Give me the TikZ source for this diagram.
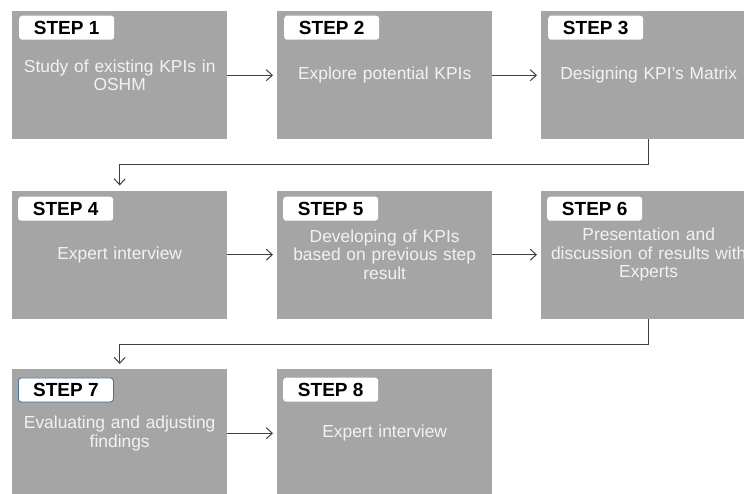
\documentclass[tikz,border=0pt]{standalone}
\usepackage{fontspec}
\setmainfont{Liberation Sans}
\usetikzlibrary{arrows.meta}
\definecolor{boxgray}{HTML}{A5A5A5}
\definecolor{bodytxt}{HTML}{F2F2F2}
\definecolor{linegray}{HTML}{404040}
\definecolor{labelblue}{HTML}{41719C}
\begin{document}
\begin{tikzpicture}[x=1pt,y=-1pt,
  stepbox/.style={fill=boxgray, minimum width=215pt, minimum height=128pt,
    inner sep=0pt, text width=207pt, align=center, text=bodytxt,
    font=\fontsize{17.4}{18.6}\selectfont, anchor=north west},
  steplabel/.style={fill=white, rounded corners=3pt, minimum width=95pt,
    minimum height=24pt, inner sep=0pt, text=black,
    font=\fontsize{19}{22}\selectfont\bfseries, anchor=north west},
  flow/.style={draw=linegray, line width=1pt, shorten >=4pt,
    -{Straight Barb[length=6pt,width=11pt]}},
  link/.style={draw=linegray, line width=1.2pt, shorten >=5pt,
    -{Straight Barb[length=6pt,width=11pt,line width=1pt]}}]
\useasboundingbox (0,0) rectangle (744,493);
\clip (0,0) rectangle (744,493);
% row 1
\node[stepbox] (b1) at (12,11) {Study of existing KPIs in\\OSHM};
\node[stepbox] (b2) at (277,11) {Explore potential KPIs};
\node[stepbox] (b3) at (541,11) {Designing KPI’s Matrix};
% row 2
\node[stepbox] (b4) at (12,190.5) {Expert interview};
\node[stepbox] (b5) at (277,190.5) {Developing of KPIs\\based on previous step\\result};
\node[stepbox] (b6) at (541,190.5) {Presentation and\\discussion of results with\\Experts};
% row 3
\node[stepbox] (b7) at (12,369) {Evaluating and adjusting\\findings};
\node[stepbox] (b8) at (277,369) {Expert interview};
% labels
\node[steplabel] (l1) at ([shift={(7,4.5)}]b1.north west) {STEP 1};
\node[steplabel] (l2) at ([shift={(7,4.5)}]b2.north west) {STEP 2};
\node[steplabel] (l3) at ([shift={(7,4.5)}]b3.north west) {STEP 3};
\node[steplabel] (l4) at ([shift={(6,6)}]b4.north west) {STEP 4};
\node[steplabel] (l5) at ([shift={(6,6)}]b5.north west) {STEP 5};
\node[steplabel] (l6) at ([shift={(6,6)}]b6.north west) {STEP 6};
\node[steplabel, draw=labelblue, line width=0.8pt] (l7) at ([shift={(6,8.5)}]b7.north west) {STEP 7};
\node[steplabel] (l8) at ([shift={(6,8.5)}]b8.north west) {STEP 8};
% connectors
\draw[flow] (b1.east) -- (b2.west);
\draw[flow] (b2.east) -- (b3.west);
\draw[flow] (b4.east) -- (b5.west);
\draw[flow] (b5.east) -- (b6.west);
\draw[flow] (b7.east) -- (b8.west);
\draw[link] (b3.south) -- ++(0,25) -| (b4.north);
\draw[link] (b6.south) -- ++(0,25.5) -| (b7.north);
\end{tikzpicture}
\end{document}
